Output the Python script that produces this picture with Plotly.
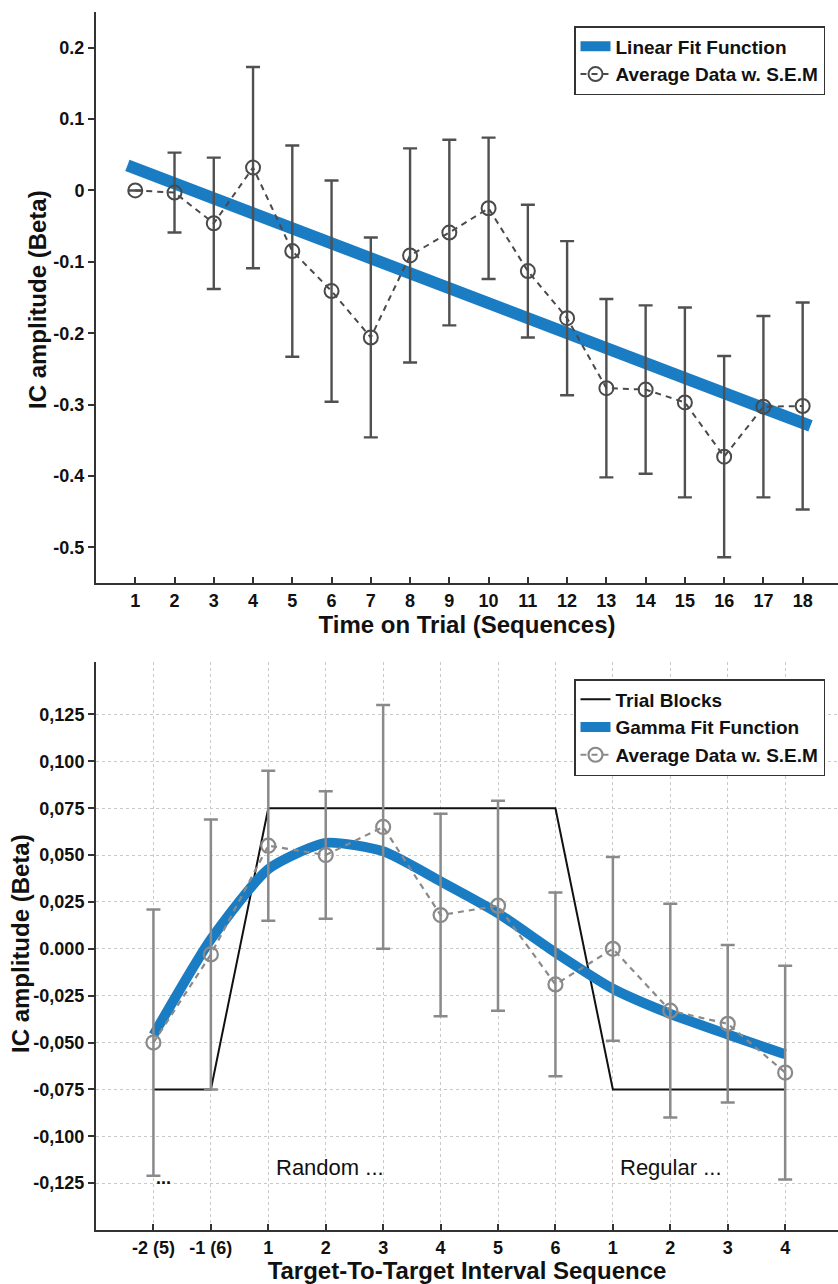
import plotly.graph_objects as go

# ---------------- top panel: time on trial ----------------
seq = list(range(1, 19))
avg_top = [0.000, -0.003, -0.046, 0.032, -0.085, -0.141, -0.206, -0.091, -0.059,
           -0.025, -0.113, -0.179, -0.277, -0.279, -0.297, -0.373, -0.303, -0.302]
sem_top = [0.000, 0.056, 0.092, 0.141, 0.148, 0.155, 0.140, 0.150, 0.130,
           0.099, 0.093, 0.108, 0.125, 0.118, 0.133, 0.141, 0.127, 0.145]
lin_x = [0.8, 18.2]
lin_y = [0.035, -0.330]
top_yticks = [-0.5, -0.4, -0.3, -0.2, -0.1, 0.0, 0.1, 0.2]
top_yticktext = ["-0.5", "-0.4", "-0.3", "-0.2", "-0.1", "0", "0.1", "0.2"]

# ---------------- bottom panel: target-to-target interval ----------------
pos = list(range(1, 13))
interval_labels = ["-2 (5)", "-1 (6)", "1", "2", "3", "4", "5", "6", "1", "2", "3", "4"]
avg_bot = [-0.050, -0.003, 0.055, 0.050, 0.065, 0.018, 0.023, -0.019,
           0.000, -0.033, -0.040, -0.066]
sem_bot = [0.071, 0.072, 0.040, 0.034, 0.065, 0.054, 0.056, 0.049,
           0.049, 0.057, 0.042, 0.057]
gamma_fit = [-0.046, 0.005, 0.0425, 0.0565, 0.052, 0.036, 0.019, -0.002,
             -0.0213, -0.0347, -0.0457, -0.0563]
blocks_x = [1, 2, 3, 8, 9, 12]
blocks_y = [-0.075, -0.075, 0.075, 0.075, -0.075, -0.075]
bot_yticks = [-0.125, -0.100, -0.075, -0.050, -0.025, 0.0, 0.025, 0.050, 0.075, 0.100, 0.125]
bot_yticktext = ["-0,125", "-0,100", "-0,075", "-0,050", "-0,025", "0.000",
                 "0,025", "0,050", "0,075", "0,100", "0,125"]

W, H = 838, 1284
FONT = "Liberation Sans, Arial, sans-serif"
BLUE = "#1A7DC4"
DARK = "#4a4a4a"
GREY = "#8a8a8a"
AX = "#333333"


def py(pix):
    """paper-y coordinate from a pixel row measured from the top"""
    return 1 - pix / H


fig = go.Figure()

# top panel traces
fig.add_trace(go.Scatter(
    x=lin_x, y=lin_y, mode="lines", name="Linear Fit Function",
    line=dict(color=BLUE, width=12), xaxis="x", yaxis="y", legend="legend"))
fig.add_trace(go.Scatter(
    x=seq, y=avg_top, mode="lines+markers", name="Average Data w. S.E.M",
    line=dict(color=DARK, width=2, dash="6px,5px"),
    marker=dict(symbol="circle-open", size=14, color=DARK, line=dict(width=2, color=DARK)),
    error_y=dict(type="data", array=sem_top, color="#505050", thickness=2.4, width=7),
    xaxis="x", yaxis="y", legend="legend"))

# bottom panel traces
fig.add_trace(go.Scatter(
    x=blocks_x, y=blocks_y, mode="lines", name="Trial Blocks",
    line=dict(color="#111111", width=2), xaxis="x2", yaxis="y2", legend="legend2"))
fig.add_trace(go.Scatter(
    x=pos, y=gamma_fit, mode="lines", name="Gamma Fit Function",
    line=dict(color=BLUE, width=10, shape="spline", smoothing=0.6),
    xaxis="x2", yaxis="y2", legend="legend2"))
fig.add_trace(go.Scatter(
    x=pos, y=avg_bot, mode="lines+markers", name="Average Data w. S.E.M",
    line=dict(color=GREY, width=2.2, dash="6px,5px"),
    marker=dict(symbol="circle-open", size=14, color=GREY, line=dict(width=2.2, color=GREY)),
    error_y=dict(type="data", array=sem_bot, color=GREY, thickness=2.5, width=7),
    xaxis="x2", yaxis="y2", legend="legend2"))

tickfont = dict(family=FONT, size=18, color="#111111", weight="bold")
titlefont = dict(family=FONT, size=24, color="#111111", weight="bold")
legfont = dict(family=FONT, size=19, color="#111111", weight="bold")

axis_common = dict(showline=True, linecolor=AX, linewidth=2, mirror=False,
                   zeroline=False, tickfont=tickfont, ticklen=6, tickwidth=1.5,
                   tickcolor=AX)

xdom = [96 / W, 1.0]

fig.update_layout(
    width=W, height=H, margin=dict(l=0, r=0, t=0, b=0),
    paper_bgcolor="white", plot_bgcolor="white", showlegend=True,
    font=dict(family=FONT),
    xaxis=dict(domain=xdom, range=[0, 18.9], tickvals=seq, ticks="inside",
               showgrid=False, anchor="y",
               title=dict(text="Time on Trial (Sequences)", font=titlefont, standoff=0),
               **axis_common),
    yaxis=dict(domain=[py(583), py(12)], range=[-0.55, 0.25], tickvals=top_yticks,
               ticktext=top_yticktext, ticks="outside", showgrid=False, anchor="x",
               **axis_common),
    xaxis2=dict(domain=xdom, range=[0, 12.92], tickvals=pos, ticktext=interval_labels,
                ticks="inside", showgrid=True, gridcolor="#c9c9c9", griddash="dot",
                gridwidth=1, anchor="y2",
                title=dict(text="Target-To-Target Interval Sequence", font=titlefont, standoff=3),
                **axis_common),
    yaxis2=dict(domain=[py(1230), py(662)], range=[-0.15, 0.153], tickvals=bot_yticks,
                ticktext=bot_yticktext, ticks="outside", showgrid=True,
                gridcolor="#c9c9c9", griddash="dot", gridwidth=1, anchor="x2",
                **axis_common),
    legend=dict(x=574 / W, y=py(26), xanchor="left", yanchor="top",
                bgcolor="white", bordercolor="#333333", borderwidth=1.5,
                font=legfont, tracegroupgap=0, itemwidth=30),
    legend2=dict(x=574 / W, y=py(679), xanchor="left", yanchor="top",
                 bgcolor="white", bordercolor="#333333", borderwidth=1.5,
                 font=legfont, tracegroupgap=0, itemwidth=30),
)

# vertical y-axis titles
for xpix, ypix in [(37, 300), (20, 944)]:
    fig.add_annotation(x=xpix / W, y=py(ypix), xref="paper", yref="paper",
                       text="IC amplitude (Beta)", textangle=-90, showarrow=False,
                       xanchor="center", yanchor="middle", font=titlefont)

# block annotations in the lower panel
for txt, xv, yv, sz, wt in [("...", 1.17, -0.1225, 18, "bold"),
                            ("Random ...", 4.07, -0.1166, 22, "normal"),
                            ("Regular ...", 10.02, -0.1166, 22, "normal")]:
    fig.add_annotation(x=xv, y=yv, xref="x2", yref="y2", text=txt, showarrow=False,
                       font=dict(family=FONT, size=sz, color="#111111", weight=wt))

fig.write_html("out.html")
